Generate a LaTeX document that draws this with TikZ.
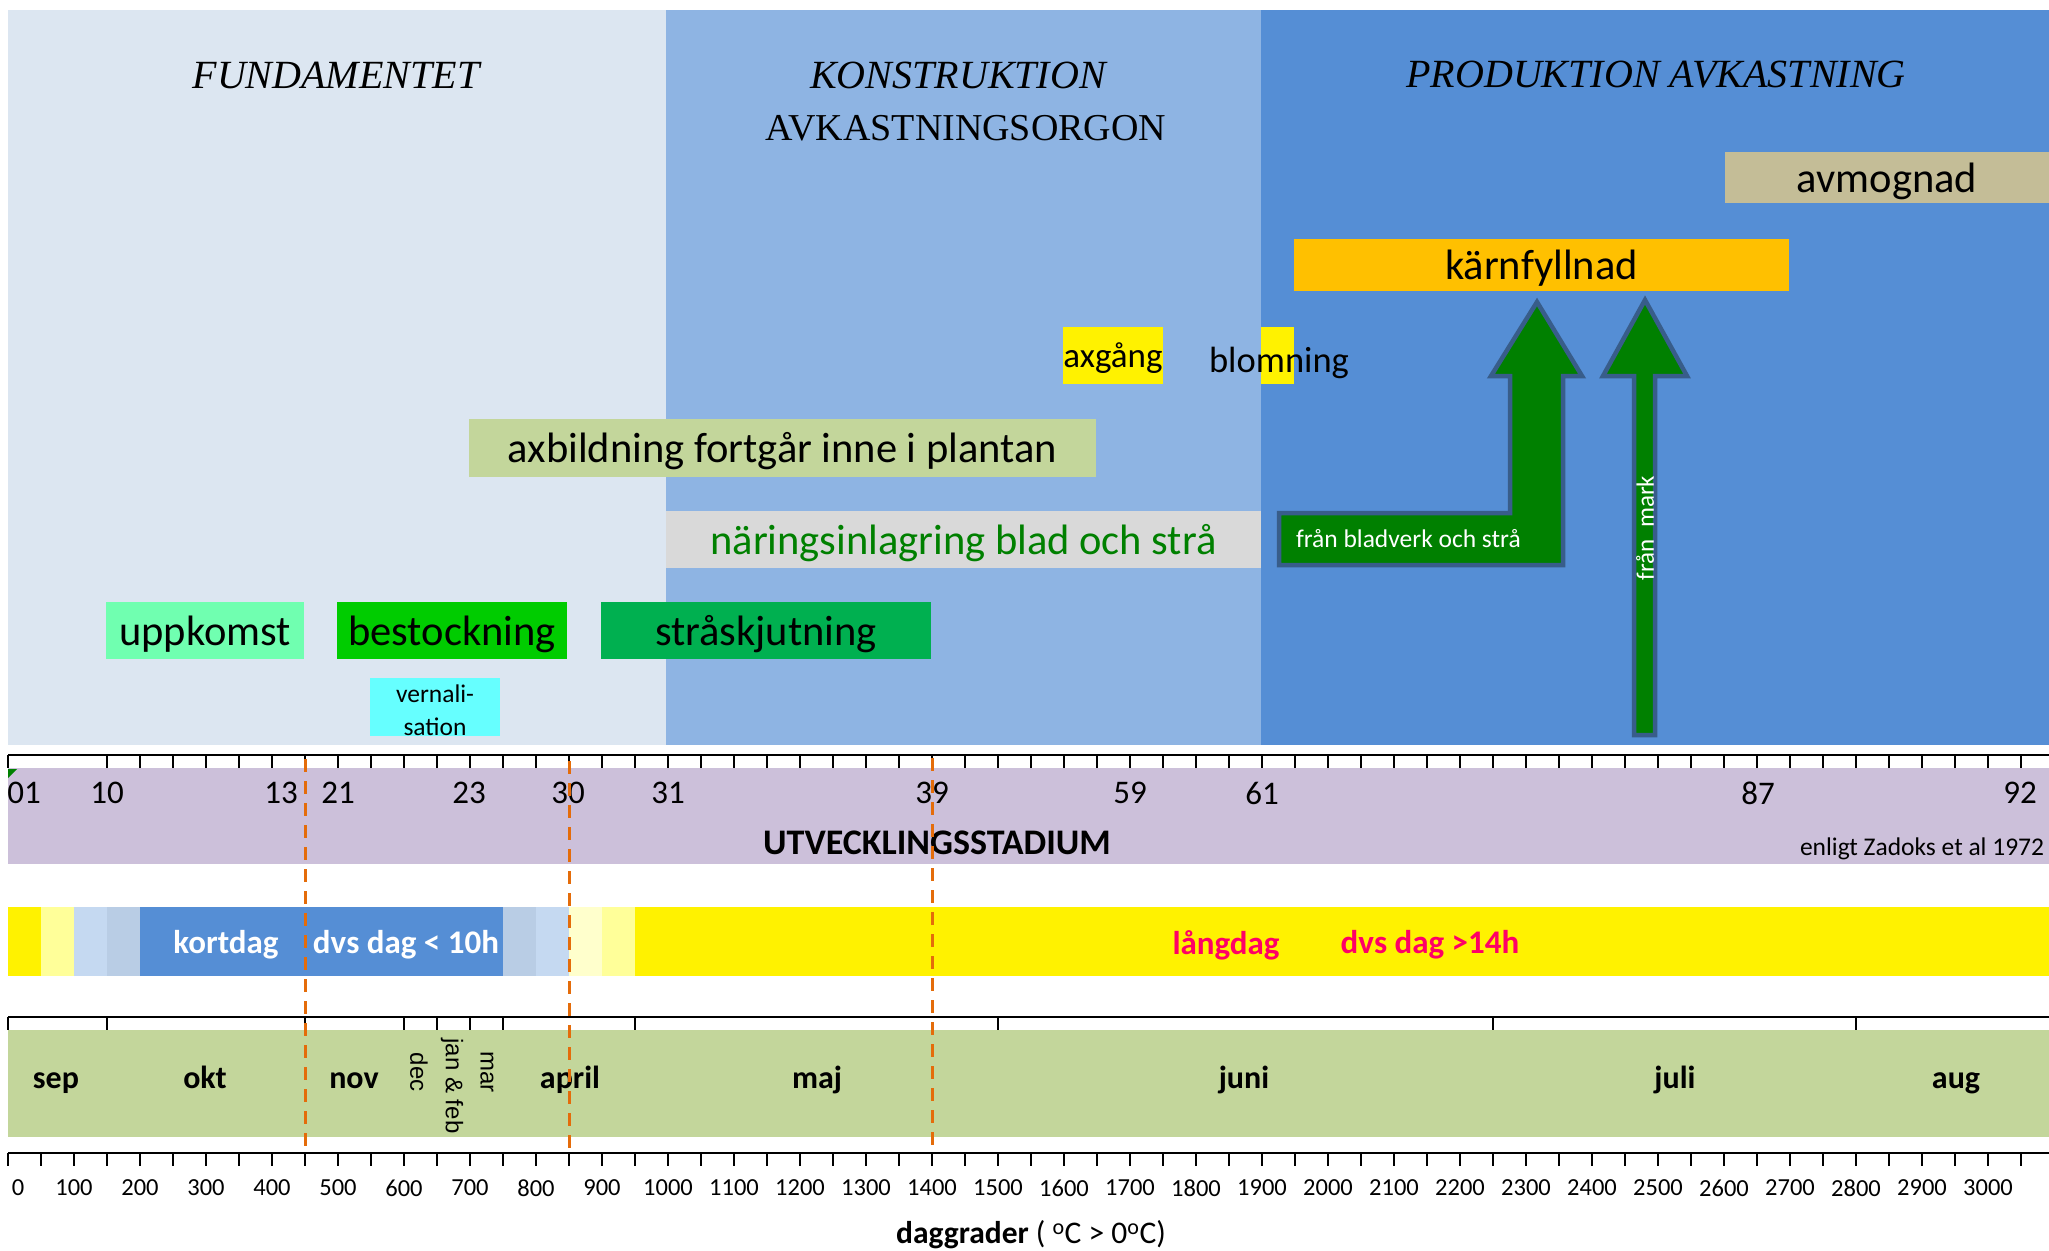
\documentclass[tikz,border=0pt]{standalone}
\usepackage{fontspec}
\setmainfont{Carlito}
\newfontfamily\headfont{Liberation Serif}
\newfontfamily\arialfont{Liberation Sans}
\newcommand\fz[1]{\fontsize{#1}{#1}\selectfont}
\definecolor{panelA}{HTML}{DCE6F1}
\definecolor{panelB}{HTML}{8EB4E3}
\definecolor{panelC}{HTML}{558ED5}
\definecolor{avmog}{HTML}{C4BD97}
\definecolor{karn}{HTML}{FFC000}
\definecolor{olivebar}{HTML}{C3D69B}
\definecolor{greybar}{HTML}{D9D9D9}
\definecolor{mint}{HTML}{70FFB0}
\definecolor{bestock}{HTML}{00CC00}
\definecolor{strask}{HTML}{00B050}
\definecolor{cyanbar}{HTML}{66FFFF}
\definecolor{arrowg}{HTML}{008000}
\definecolor{arrowe}{HTML}{385D8A}
\definecolor{purp}{HTML}{CCC0DA}
\definecolor{dashor}{HTML}{E46C0A}
\definecolor{lyel}{HTML}{FFFF99}
\definecolor{vlyel}{HTML}{FFFFCC}
\definecolor{lblue}{HTML}{C5D9F1}
\definecolor{gblue}{HTML}{B9CDE5}
\definecolor{pinkr}{HTML}{FF0066}
\definecolor{textg}{HTML}{008000}
\definecolor{monthg}{HTML}{C3D69B}
\begin{document}
\begin{tikzpicture}[x=1pt,y=-1pt,
  bar/.style={inner sep=0pt, outer sep=0pt, draw=none, align=center, font=\fz{42.5}, text height=33.5pt, text depth=4.5pt},
  lbl/.style={inner sep=0pt, outer sep=0pt},
  head/.style={lbl, font=\headfont\itshape\fz{40}},
  axisline/.style={line width=2.5pt, black},
  tickline/.style={line width=2pt, black},
  zoneline/.style={dashor, line width=3pt, dash pattern=on 13pt off 9pt},
  blockarrow/.style={fill=arrowg, draw=arrowe, line width=4.5pt, line join=miter},
  month/.style={lbl, font=\bfseries\fz{32}, text height=22.4pt, text depth=0pt},
  vmonth/.style={lbl, font=\arialfont\fz{24}, rotate=-90},
  daytext/.style={lbl, font=\bfseries\fz{33}}
]
\useasboundingbox (0,0) rectangle (2049,1250);
\fill[white] (0,0) rectangle (2049,1250);

% ---- phase panels
\fill[panelA] (8,10) rectangle (666,745);
\fill[panelB] (666,10) rectangle (1261,745);
\fill[panelC] (1261,10) rectangle (2049,745);

\node[head] (h1) at (336,75) {FUNDAMENTET};
\node[head] (h2) at (958,75) {KONSTRUKTION};
\node[lbl, font=\headfont\fz{38}] (h2b) at (966,128) {AVKASTNINGSORGON};
\node[head] (h3) at (1656,75) {PRODUKTION AVKASTNING};

% ---- bars
\node[bar, fill=avmog, minimum width=324pt, minimum height=51pt] (avm) at (1887,177.5) {avmognad};
\node[bar, fill=karn, minimum width=495pt, minimum height=52pt] (karn) at (1541.5,265) {kärnfyllnad};
\node[bar, fill=yellow, minimum width=98pt, minimum height=57pt, font=\fz{35}, text height=28pt, text depth=3.5pt] (axg) at (1113,355.5) {axgång};
\node[bar, fill=yellow, minimum width=33pt, minimum height=57pt, text height=0pt, text depth=0pt] (blomb) at (1277.5,355.5) {};
\node[lbl, font=\fz{36.5}, text height=29pt, text depth=3.5pt] (blom) at (1279,360) {blomning};
\node[bar, fill=olivebar, minimum width=627pt, minimum height=58pt] (axb) at (782.5,448) {axbildning fortgår inne i plantan};
\node[bar, fill=greybar, minimum width=595pt, minimum height=57pt, text=textg] (nar) at (963.5,539.5) {näringsinlagring blad och strå};
\node[bar, fill=mint, minimum width=198pt, minimum height=57pt] (upp) at (205,630.5) {uppkomst};
\node[bar, fill=bestock, minimum width=230pt, minimum height=57pt] (best) at (452,630.5) {bestockning};
\node[bar, fill=strask, minimum width=330pt, minimum height=57pt] (stra) at (766,630.5) {stråskjutning};
\node[bar, fill=cyanbar, minimum width=130pt, minimum height=58pt, text height=0pt, text depth=0pt] (vern) at (435,707) {};
\node[lbl, align=center, font=\fontsize{25.5}{33}\selectfont] (verntxt) at (435,710) {vernali-\\sation};

% ---- block arrows
\path[blockarrow] (1279,513) -- (1510,513) -- (1510,376) -- (1491,376) -- (1537,302) -- (1582,376) -- (1563,376) -- (1563,565) -- (1279,565) -- cycle;
\path[blockarrow] (1634,735) -- (1634,376) -- (1603,376) -- (1645,300) -- (1687,376) -- (1655,376) -- (1655,735) -- cycle;
\node[lbl, anchor=west, text=white, font=\fz{25.5}] (fbl) at (1296,539) {från bladverk och strå};
\node[lbl, rotate=90, text=white, font=\fz{25}] (fmark) at (1645,528) {från\ \ mark};

% ---- development stage row
\fill[purp] (8,768) rectangle (2049,864);
\fill[arrowg] (8,769) -- (17,769) -- (8,778) -- cycle;
\draw[axisline] (8,755) -- (2049,755);
\draw[tickline] (8,755) -- (8,768);
\foreach \k in {3,...,61} \draw[tickline] ({8+33*\k},755) -- ({8+33*\k},768);
\foreach \x/\t in {24/01,107/10,281/13,338/21,469/23,568/30,668/31,932/39,1130/59,1262/61,1758/87,2020/92}
  \node[lbl, font=\fz{33}] (st\t) at (\x,793) {\t};
\node[lbl, font=\bfseries\fz{36}] (utv) at (937,843) {UTVECKLINGSSTADIUM};
\node[lbl, anchor=west, font=\fz{25.5}] (zad) at (1800,849) {enligt Zadoks et al 1972};

% ---- day length row
\foreach \a/\b/\c in {8/41/yellow, 41/74/lyel, 74/107/lblue, 107/140/gblue, 140/503/panelC, 503/536/gblue, 536/569/lblue, 569/602/vlyel, 602/635/lyel, 635/2049/yellow}
  \fill[\c] (\a,907) rectangle (\b,976);
\node[daytext, text=white] (kort) at (226,945) {kortdag};
\node[daytext, text=white] (kort2) at (406,945) {dvs dag < 10h};
\node[daytext, text=pinkr] (lang) at (1226,945) {långdag};
\node[daytext, text=pinkr] (lang2) at (1430,945) {dvs dag >14h};

% ---- month row
\fill[monthg] (8,1030) rectangle (2049,1137);
\draw[axisline] (8,1017) -- (2049,1017);
\foreach \d in {0,150,450,600,650,700,750,950,1500,2250,2800}
  \draw[tickline] ({8+0.66*\d},1017) -- ({8+0.66*\d},1030);
\foreach \x/\m in {56/sep,205/okt,354/nov,570/april,817/maj,1244/juni,1675/juli,1956/aug}
  \node[month] (m\m) at (\x,1077) {\m};
\node[vmonth] (mdec) at (419,1072) {dec};
\node[vmonth] (mjan) at (452,1086) {jan \& feb};
\node[vmonth] (mmar) at (487,1072) {mar};

% ---- degree-day axis
\draw[axisline] (8,1153) -- (2049,1153);
\foreach \k in {0,...,61} \draw[tickline] ({8+33*\k},1153) -- ({8+33*\k},1166);
\node[lbl, font=\fz{24.5}] (dg0) at (18,1188) {0};
\foreach \v in {100,200,...,3000}
  \node[lbl, font=\fz{24.5}] (dg\v) at ({8+0.66*\v},1188) {\v};
\node[lbl, font=\fz{31.5}] (dgt) at (1031,1235) {\textbf{daggrader} ( \textsuperscript{o}C > 0\textsuperscript{o}C)};

% ---- zone boundaries (dashed)
\coordinate (z1t) at (305,759); \coordinate (z1b) at (305,1152);
\coordinate (z2t) at (569,761); \coordinate (z2b) at (569,1153);
\coordinate (z3t) at (932,758); \coordinate (z3b) at (932,1148);
\draw[zoneline] (z1t) -- (z1b);
\draw[zoneline] (z2t) -- (z2b);
\draw[zoneline] (z3t) -- (z3b);
\end{tikzpicture}
\end{document}
